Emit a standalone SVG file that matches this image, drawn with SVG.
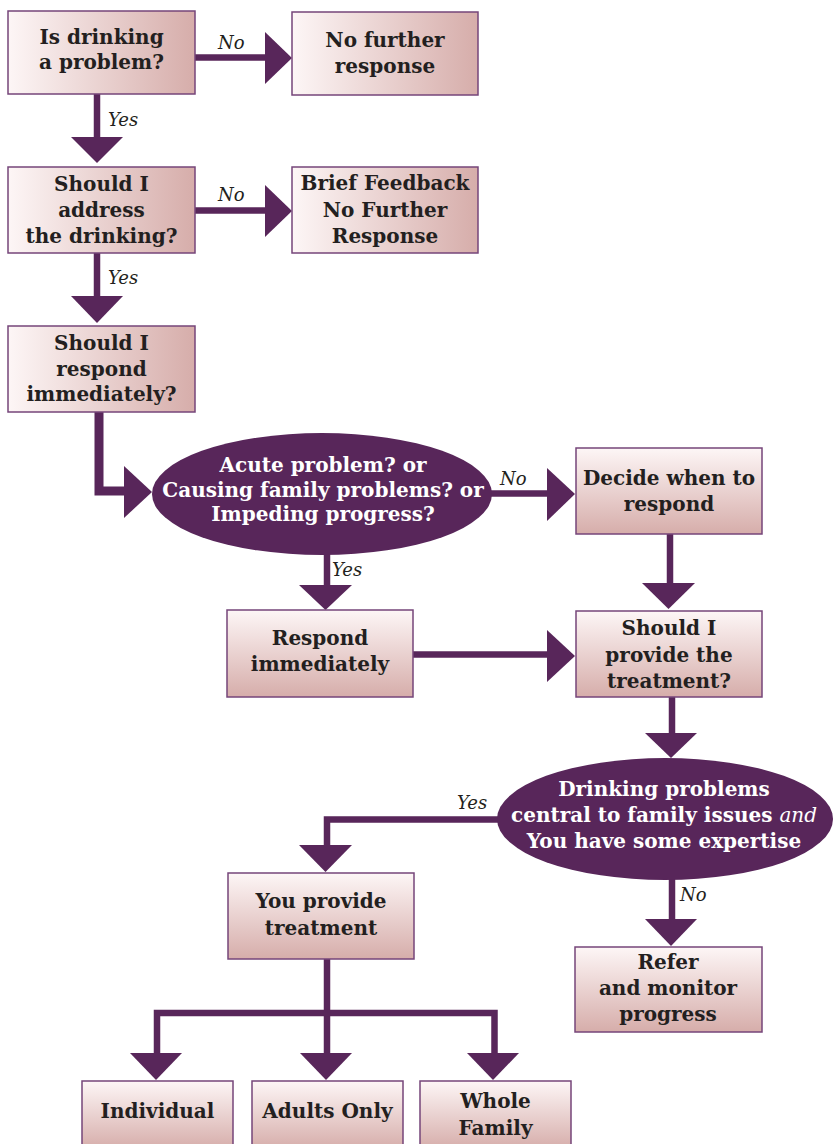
<svg xmlns="http://www.w3.org/2000/svg" width="833" height="1144" viewBox="0 0 833 1144">
<style>
.box{stroke:#76457a;stroke-width:1.5}
.bh{fill:url(#gh)}
.bv{fill:url(#gv)}
.ell{fill:#58265a}
.t{font-family:"DejaVu Serif","Liberation Serif",serif;font-weight:bold;font-size:20px;fill:#231f20;text-anchor:middle}
.w{fill:#ffffff}
.it{font-style:italic;font-weight:normal}
.lbl{font-family:"DejaVu Serif","Liberation Serif",serif;font-style:italic;font-size:18px;fill:#231f20}
.ln{fill:none;stroke:#58265a;stroke-width:6.5;stroke-linejoin:miter;stroke-linecap:butt}
.hd{fill:#58265a}
</style>
<defs>
<linearGradient id="gh" x1="0" y1="0" x2="1" y2="0">
<stop offset="0" stop-color="#fdf6f6"/>
<stop offset="1" stop-color="#d6adaa"/>
</linearGradient>
<linearGradient id="gv" x1="0" y1="0" x2="0" y2="1">
<stop offset="0" stop-color="#fdf6f6"/>
<stop offset="1" stop-color="#d6adaa"/>
</linearGradient>
</defs>

<g id="connectors">
<line class="ln" x1="195" y1="57.5" x2="266" y2="57.5"/>
<polygon class="hd" points="265,32 292,58 265,84"/>
<text class="lbl" x="218" y="49">No</text>

<line class="ln" x1="97" y1="94" x2="97" y2="138"/>
<polygon class="hd" points="71,137 123,137 97,163"/>
<text class="lbl" x="108" y="126">Yes</text>

<line class="ln" x1="195" y1="210.5" x2="266" y2="210.5"/>
<polygon class="hd" points="265,185 292,211 265,237"/>
<text class="lbl" x="218" y="201">No</text>

<line class="ln" x1="97" y1="253" x2="97" y2="297"/>
<polygon class="hd" points="71,296 123,296 97,323"/>
<text class="lbl" x="108" y="284">Yes</text>

<polyline class="ln" style="stroke-width:9" points="99,412 99,491 126,491"/>
<polygon class="hd" points="124,466 152,492 124,518"/>

<line class="ln" x1="490" y1="493.5" x2="548" y2="493.5"/>
<polygon class="hd" points="547,468 575,494 547,521"/>
<text class="lbl" x="500" y="485">No</text>

<line class="ln" x1="327" y1="554" x2="327" y2="586"/>
<polygon class="hd" points="299,585 352,585 325.5,610"/>
<text class="lbl" x="332" y="576">Yes</text>

<line class="ln" x1="670" y1="534" x2="670" y2="584"/>
<polygon class="hd" points="642,583 695,583 668.5,609"/>

<line class="ln" x1="413" y1="654.5" x2="548" y2="654.5"/>
<polygon class="hd" points="547,630 575,656 547,682"/>

<line class="ln" x1="672" y1="697" x2="672" y2="734"/>
<polygon class="hd" points="645,733 697,733 671,758"/>

<polyline class="ln" points="498,819.5 327,819.5 327,846"/>
<polygon class="hd" points="299,845 352,845 325.5,872"/>
<text class="lbl" x="457" y="809">Yes</text>

<line class="ln" x1="672" y1="878" x2="672" y2="920"/>
<polygon class="hd" points="645,919 697,919 671,946"/>
<text class="lbl" x="680" y="901">No</text>

<line class="ln" x1="327" y1="959" x2="327" y2="1054"/>
<polyline class="ln" points="157,1054 157,1013 494.5,1013 494.5,1054"/>
<polygon class="hd" points="130,1053 182,1053 156,1080"/>
<polygon class="hd" points="300,1053 352,1053 326,1080"/>
<polygon class="hd" points="467,1053 519,1053 493,1080"/>
</g>

<g id="n1">
<rect class="box bh" x="8" y="11" width="187" height="83"/>
<text class="t" x="101.5" y="44">Is drinking</text>
<text class="t" x="101.5" y="69">a problem?</text>
</g>
<g id="n2">
<rect class="box bh" x="292" y="12" width="186" height="83"/>
<text class="t" x="385" y="47">No further</text>
<text class="t" x="385" y="73">response</text>
</g>
<g id="n3">
<rect class="box bh" x="8" y="167" width="187" height="86"/>
<text class="t" x="101.5" y="191">Should I</text>
<text class="t" x="101.5" y="217">address</text>
<text class="t" x="101.5" y="243">the drinking?</text>
</g>
<g id="n4">
<rect class="box bh" x="292" y="167" width="186" height="86"/>
<text class="t" x="385" y="190">Brief Feedback</text>
<text class="t" x="385" y="217">No Further</text>
<text class="t" x="385" y="243">Response</text>
</g>
<g id="n5">
<rect class="box bh" x="8" y="326" width="187" height="86"/>
<text class="t" x="101.5" y="350">Should I</text>
<text class="t" x="101.5" y="376">respond</text>
<text class="t" x="101.5" y="401">immediately?</text>
</g>
<g id="e1">
<ellipse class="ell" cx="322" cy="494" rx="170" ry="61"/>
<text class="t w" x="323" y="472">Acute problem? or</text>
<text class="t w" x="323" y="497">Causing family problems? or</text>
<text class="t w" x="323" y="521">Impeding progress?</text>
</g>
<g id="n6">
<rect class="box bv" x="576" y="448" width="186" height="86"/>
<text class="t" x="669" y="485">Decide when to</text>
<text class="t" x="669" y="511">respond</text>
</g>
<g id="n7">
<rect class="box bv" x="227" y="610" width="186" height="87"/>
<text class="t" x="320" y="645">Respond</text>
<text class="t" x="320" y="671">immediately</text>
</g>
<g id="n8">
<rect class="box bv" x="576" y="611" width="186" height="86"/>
<text class="t" x="669" y="635">Should I</text>
<text class="t" x="669" y="662">provide the</text>
<text class="t" x="669" y="688">treatment?</text>
</g>
<g id="e2">
<ellipse class="ell" cx="665" cy="819" rx="168" ry="61"/>
<text class="t w" x="664" y="796">Drinking problems</text>
<text class="t w" x="664" y="822">central to family issues <tspan class="it">and</tspan></text>
<text class="t w" x="664" y="848">You have some expertise</text>
</g>
<g id="n9">
<rect class="box bv" x="228" y="873" width="186" height="86"/>
<text class="t" x="321" y="908">You provide</text>
<text class="t" x="321" y="935">treatment</text>
</g>
<g id="n10">
<rect class="box bv" x="575" y="947" width="187" height="85"/>
<text class="t" x="668" y="969">Refer</text>
<text class="t" x="668" y="995">and monitor</text>
<text class="t" x="668" y="1021">progress</text>
</g>
<g id="n11">
<rect class="box bv" x="82" y="1081" width="151" height="68"/>
<text class="t" x="157.5" y="1118">Individual</text>
</g>
<g id="n12">
<rect class="box bv" x="252" y="1081" width="151" height="68"/>
<text class="t" x="327.5" y="1118">Adults Only</text>
</g>
<g id="n13">
<rect class="box bv" x="420" y="1081" width="151" height="68"/>
<text class="t" x="495.5" y="1108">Whole</text>
<text class="t" x="495.5" y="1135">Family</text>
</g>
</svg>
